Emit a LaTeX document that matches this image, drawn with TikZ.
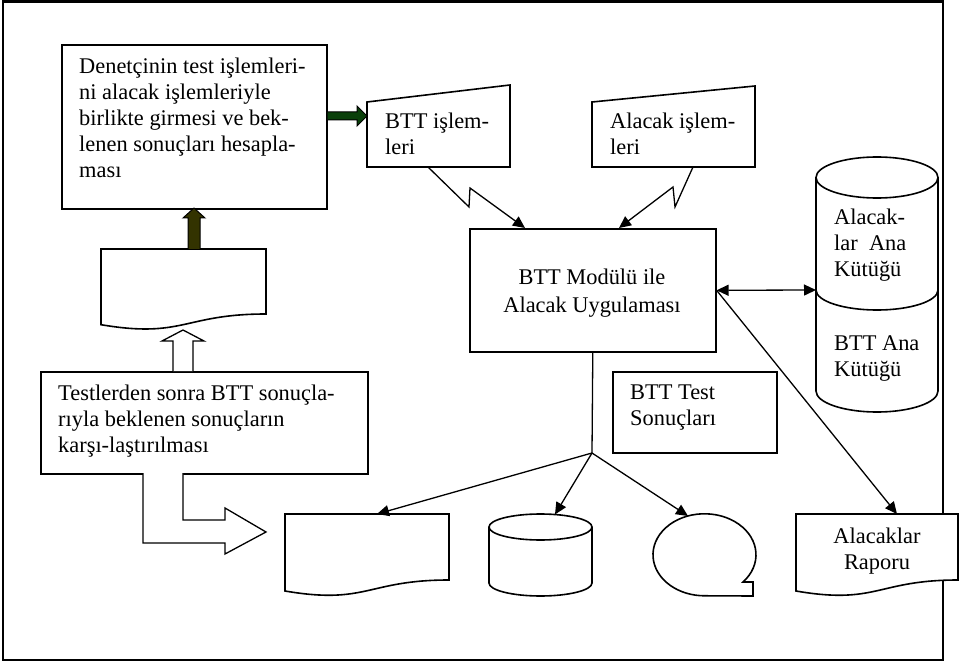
\documentclass[tikz,border=0pt]{standalone}
\usepackage{fontspec}
\setmainfont{Liberation Serif}
\usetikzlibrary{arrows.meta}

\definecolor{feedgreen}{RGB}{10,64,10}
\definecolor{feedolive}{RGB}{51,51,0}

\begin{document}
\begin{tikzpicture}[x=1pt,y=-1pt,
  outline/.style={draw=black,line width=1.6pt,fill=white},
  boxnode/.style={outline,rectangle,inner sep=0pt,anchor=north west},
  conn/.style={draw=black,line width=1.3pt,-{Triangle[length=12pt,width=11pt]}},
  dconn/.style={draw=black,line width=1.3pt,{Triangle[length=12pt,width=11pt]}-{Triangle[length=12pt,width=11pt]}},
  lbl/.style={font=\fontsize{22.4}{26}\selectfont,inner sep=0pt,align=left},
  clbl/.style={font=\fontsize{22.4}{28}\selectfont,inner sep=0pt,align=center},
  fatarrow/.style={draw=black,line width=1pt}]

\useasboundingbox (0,0) rectangle (959,663);

% outer frame
\draw[line width=2.4pt] (3,1.5) rectangle (943,660);

% rectangular process boxes
\node[boxnode,minimum width=265pt,minimum height=164pt] (enter) at (61,44) {};
\node[boxnode,minimum width=246pt,minimum height=123pt] (central) at (469,228) {};
\node[boxnode,minimum width=164pt,minimum height=81pt] (testres) at (612,371) {};
\node[boxnode,minimum width=327pt,minimum height=102pt] (compare) at (40,371) {};

% manual input shapes
\draw[outline] (367,102) -- (510,85) -- (510,167) -- (367,167) -- cycle;
\draw[outline] (592,102) -- (755,86) -- (755,167) -- (592,167) -- cycle;

% blank document above the comparison box
\draw[outline] (101,249) -- (266,249) -- (266,314)
  .. controls (183.5,314) and (183.5,338.7) .. (101,324.7) -- cycle;

% output document, disk and tape under the application box
\draw[outline] (285,514) -- (449,514) -- (449,580)
  .. controls (367,580) and (367,605) .. (285,591) -- cycle;
\draw[outline] (489,527) -- (489,583) arc[start angle=180,end angle=0,x radius=51.5,y radius=13]
  -- (592,527);
\draw[outline] (540.5,527) ellipse[x radius=51.5,y radius=13];
\draw[outline] (743,582) arc[start angle=41.6,end angle=-270,x radius=51.5,y radius=41]
  -- (753,596) -- (753,582) -- cycle;

% report document
\draw[outline] (796,514) -- (958,514) -- (958,580)
  .. controls (877,580) and (877,605) .. (796,591) -- cycle;

% stacked master files
\draw[outline] (816,177.5) -- (816,391) arc[start angle=180,end angle=0,x radius=61,y radius=21]
  -- (938,177.5);
\draw[outline] (877,177.5) ellipse[x radius=61,y radius=20.5];
\draw[outline,fill=none] (816,290) arc[start angle=180,end angle=0,x radius=61,y radius=20];

% texts
\node[lbl,anchor=north west] (entertext) at (79,58) {Denetçinin test işlemleri-\\ni alacak işlemleriyle\\birlikte girmesi ve bek-\\lenen sonuçları hesapla-\\ması};
\node[lbl,anchor=north west] (btttext) at (385,113) {BTT işlem-\\leri};
\node[lbl,anchor=north west] (alacaktext) at (610,113) {Alacak işlem-\\leri};
\node[clbl,anchor=north] (centraltext) at (592,269) {BTT Modülü ile\\Alacak Uygulaması};
\node[lbl,anchor=north west] (mastertext) at (834,209) {Alacak-\\lar\ \ Ana\\Kütüğü};
\node[lbl,anchor=north west] (btttmaster) at (834,336) {BTT Ana\\Kütüğü};
\node[lbl,anchor=north west] (testtext) at (630,385) {BTT Test\\Sonuçları};
\node[lbl,anchor=north west] (comparetext) at (58,385) {Testlerden sonra BTT sonuçla-\\rıyla beklenen sonuçların\\karşı-laştırılması};
\node[clbl,anchor=north] (reporttext) at (877,528) {Alacaklar\\[-2pt]Raporu};

% filled block arrows into and out of the entry box
\draw[fatarrow,fill=feedgreen] (enter.east |- 0,112) -- (357,112) -- (357,106) -- (367,116)
  -- (357,126) -- (357,120) -- (enter.east |- 0,120);
\draw[fatarrow,fill=feedolive] (188,249) -- (188,218) -- (183,218) -- (194,208)
  -- (205,218) -- (200,218) -- (200,249);

% hollow block arrows from the comparison box
\draw[fatarrow,line width=1.3pt,fill=white] (173,371) -- (173,341) -- (162,341) -- (183,330)
  -- (204,341) -- (193,341) -- (193,371);
\draw[fatarrow,line width=1.3pt,fill=white] (143,473) -- (143,543) -- (225,543) -- (225,554)
  -- (266,532) -- (225,508) -- (225,520) -- (183,520) -- (183,473);

% lightning connectors into the application box
\coordinate (bttout) at (428,167);
\coordinate (alacakout) at (693,167);
\draw[conn] (bttout) -- (469,207) -- (470,188) -- (central.north -| 525,0);
\draw[conn] (alacakout) -- (675,207) -- (673,187) -- (central.north -| 619,0);

% file access and report
\coordinate (masterin) at (816,290);
\coordinate (reportin) at (897,514);
\draw[dconn] (central.east) -- (masterin);
\draw[conn] (central.east) -- (reportin);

% outputs fanning out below the application box
\coordinate (fan) at (592,453);
\coordinate (docin) at (377,514);
\coordinate (diskin) at (555,514.5);
\coordinate (tapein) at (688,516);
\draw[line width=1.3pt] (central.south) -- (fan);
\draw[conn] (fan) -- (docin);
\draw[conn] (fan) -- (diskin);
\draw[conn] (fan) -- (tapein);

\end{tikzpicture}
\end{document}
